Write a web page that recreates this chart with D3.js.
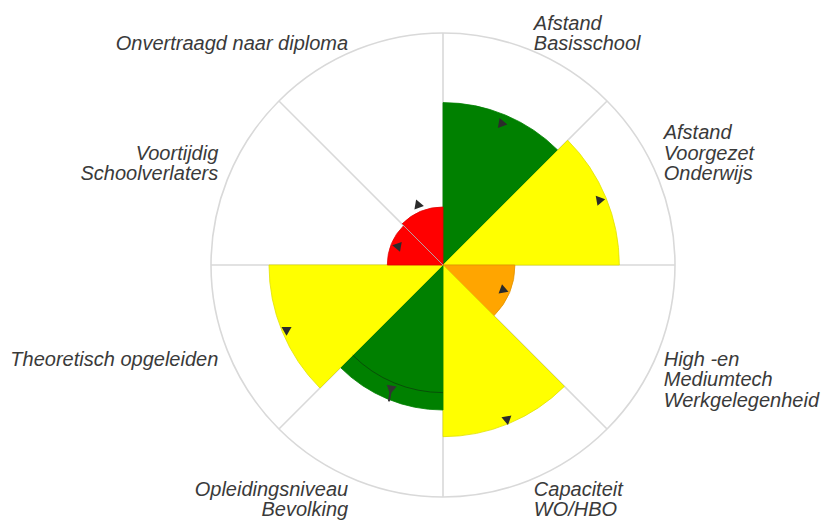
<!DOCTYPE html>
<html>
<head>
<meta charset="utf-8">
<script src="https://cdn.jsdelivr.net/npm/d3@7/dist/d3.min.js"></script>
<style>
  html, body { margin: 0; padding: 0; background: #ffffff; }
  svg { display: block; }
  .lbl { font-family: "Liberation Sans", Arial, sans-serif; font-style: italic; font-size: 20px; fill: #3a3a3a; }
</style>
</head>
<body>
<svg id="chart" width="823" height="523"></svg>
<script>
// ---- data ----
const categories = [
  ["Afstand", "Basisschool"],
  ["Afstand", "Voorgezet", "Onderwijs"],
  ["High -en", "Mediumtech", "Werkgelegenheid"],
  ["Capaciteit", "WO/HBO"],
  ["Opleidingsniveau", "Bevolking"],
  ["Theoretisch opgeleiden"],
  ["Voortijdig", "Schoolverlaters"],
  ["Onvertraagd naar diploma"]
];
const values      = [70, 76, 31, 74, 62.5, 75, 24, 25];
const markerValues = [66, 73, 28, 72, 59, 73, 21, 28];
const markerRotation = [-20, 200, -10, -70, 190, -60, -80, -20];
const previousValues = [null, null, null, null, 55, null, null, null];
const statusColors = ["#008000", "#ffff00", "#ffa500", "#ffff00", "#008000", "#ffff00", "#ff0000", "#ff0000"];
const maxValue = 100;

// ---- layout ----
const svg = d3.select("#chart");
const cx = 443, cy = 265, outerR = 232;
const g = svg.append("g").attr("transform", `translate(${cx},${cy})`);

const n = categories.length;
const angle = d3.scaleBand().domain(d3.range(n)).range([0, 2 * Math.PI]).paddingInner(0).paddingOuter(0);
const r = d3.scaleLinear().domain([0, maxValue]).range([0, outerR]);

// grid: outer circle and radial lines
g.append("circle").attr("r", outerR).attr("fill", "none")
  .attr("stroke", "#d9d9d9").attr("stroke-width", 1.6);
d3.range(n).forEach(i => {
  const a = angle(i);
  g.append("line")
    .attr("x1", 0).attr("y1", 0)
    .attr("x2", outerR * Math.sin(a)).attr("y2", -outerR * Math.cos(a))
    .attr("stroke", "#d9d9d9").attr("stroke-width", 1.6);
});

// sectors
const arc = d3.arc();
g.selectAll("path.sector").data(values).join("path")
  .attr("class", "sector")
  .attr("d", (v, i) => arc({
    innerRadius: 0, outerRadius: r(v),
    startAngle: angle(i), endAngle: angle(i) + angle.bandwidth()
  }))
  .attr("fill", (v, i) => statusColors[i])
  .attr("stroke", (v, i) => statusColors[i] === "#008000" ? "#008000" : d3.color(statusColors[i]).darker(0.35))
  .attr("stroke-width", 0.8);

// boundary between adjacent red sectors (grey line visible in reference)
g.append("line")
  .attr("x1", 0).attr("y1", 0)
  .attr("x2", r(values[7]) * Math.sin(angle(7))).attr("y2", -r(values[7]) * Math.cos(angle(7)))
  .attr("stroke", "#b8a0a0").attr("stroke-width", 1);

// previous value arcs
previousValues.forEach((v, i) => {
  if (v == null) return;
  const a0 = angle(i), a1 = angle(i) + angle.bandwidth();
  const p = d3.path();
  p.arc(0, 0, r(v), a0 - Math.PI / 2, a1 - Math.PI / 2);
  g.append("path").attr("d", p.toString()).attr("fill", "none")
    .attr("stroke", "#0b3f0b").attr("stroke-width", 1).attr("opacity", 0.75);
});

// markers
const tri = d3.symbol().type(d3.symbolTriangle).size(44);
markerValues.forEach((v, i) => {
  const a = angle(i) + angle.bandwidth() / 2;
  const x = r(v) * Math.sin(a), y = -r(v) * Math.cos(a);
  const mg = g.append("g").attr("transform", `translate(${x},${y}) rotate(${markerRotation[i]})`);
  if (i === 4) {
    mg.append("line").attr("x1", 0).attr("y1", -10).attr("x2", 0).attr("y2", 0)
      .attr("stroke", "#333").attr("stroke-width", 2);
    mg.append("path").attr("d", tri()).attr("transform", "translate(0,3)").attr("fill", "#333");
  } else {
    mg.append("path").attr("d", tri()).attr("fill", "#2b2b2b");
  }
});

// labels
const labelR = 240, lineH = 20.5;
categories.forEach((lines, i) => {
  const a = angle(i) + angle.bandwidth() / 2;
  const x = labelR * Math.sin(a), y = -labelR * Math.cos(a);
  const anchor = Math.sin(a) > 0 ? "start" : "end";
  const top = Math.cos(a) > 0;
  const firstBaseline = top ? y + 7 - (lines.length - 1) * lineH : y + 9;
  const lx = x + (anchor === "end" ? -3 : -1);
  const t = g.append("text").attr("class", "lbl").attr("text-anchor", anchor).attr("x", lx);
  lines.forEach((ln, k) => {
    t.append("tspan").attr("x", lx).attr("y", firstBaseline + k * lineH).text(ln);
  });
});
</script>
</body>
</html>
